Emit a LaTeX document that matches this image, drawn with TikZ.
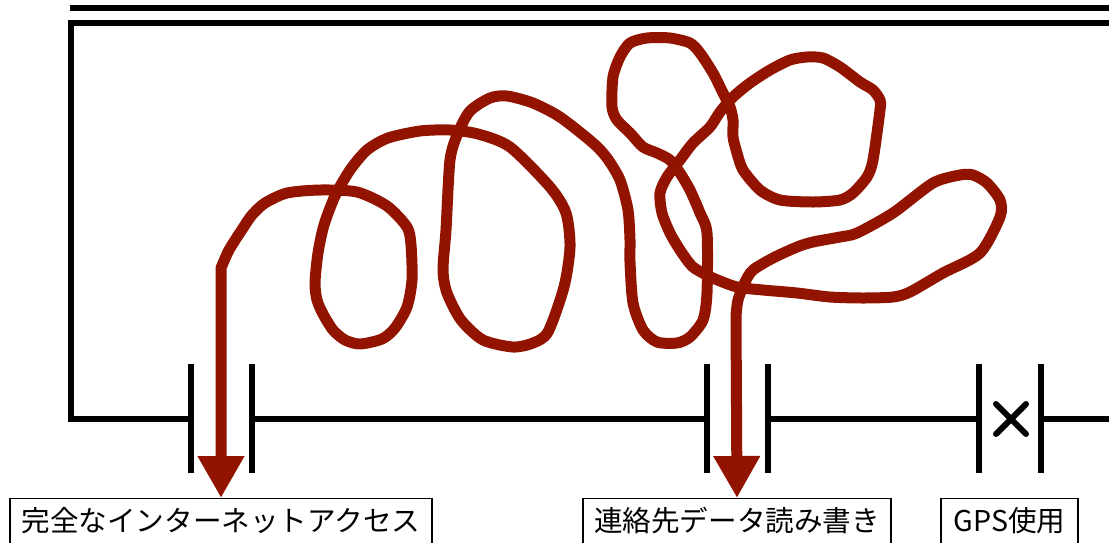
\documentclass[tikz,border=0pt]{standalone}
\usepackage{fontspec}
\newfontfamily\jpfont{Noto Sans CJK JP}
\usetikzlibrary{arrows.meta}
\definecolor{wirered}{RGB}{146,20,0}
\begin{document}
\begin{tikzpicture}[x=1pt,y=-1pt,
  blk/.style={line width=6pt, black, line cap=butt, line join=miter},
  crossline/.style={line width=6pt, black, line cap=round},
  lbl/.style={draw, line width=1.2pt, anchor=north, font=\jpfont\fontsize{28.6}{30}\selectfont,
    inner xsep=0pt, inner ysep=9pt, text height=24pt, text depth=4pt, align=center},
  flow/.style={wirered, line width=11pt, line join=round, line cap=butt,
    >={Triangle[length=42pt,width=44pt]}}
]
\useasboundingbox (0,0) rectangle (1109,542);
% top rail
\draw[blk] (70,7.5) -- (1109,7.5);
% frame
\draw[blk] (1109,23) -- (71,23) -- (71,418.5) -- (191,418.5);
\draw[blk] (252,418.5) -- (707,418.5);
\draw[blk] (768,418.5) -- (979,418.5);
\draw[blk] (1041,418.5) -- (1109,418.5);
% contact bars
\foreach \bx in {191,252,707,768,979,1041}
  \draw[blk] (\bx,364) -- (\bx,473);
% cross
\draw[crossline] (996,404) -- (1026,434);
\draw[crossline] (996,434) -- (1026,404);
% labels
\node[lbl, minimum width=422pt] (l1) at (221,498) {完全なインターネットアクセス};
\node[lbl, minimum width=308pt] (l2) at (737,498) {連絡先データ読み書き};
\node[lbl, minimum width=137pt] (l3) at (1009.5,498) {GPS使用};
% tangled wire
\draw[flow, <->] (l1.north) -- plot[smooth, tension=0.45] coordinates {
 (221,268) (229,250) (243,228) (252,215) (265,203) (287,193) (320,190) (357,192)
 (387,206) (407,227) (411,245) (412,280) (407,307) (395,328) (382,339) (360,344)
 (345,340) (333,330) (323,314) (317,300) (315,283) (318,253) (324,225) (335,196)
 (350,170) (367,150) (388,138) (420,131) (450,130) (478,134) (510,147) (550,187)
 (566,213) (570,247) (564,287) (548,332) (533,343) (513,347) (483,340) (461,320)
 (447,293) (443,270) (446,230) (450,160) (458,133) (470,111) (490,98) (507,96)
 (533,103) (560,117) (593,143) (607,158) (620,180) (628,210) (630,240) (630,262)
 (633,303) (643,330) (657,342) (677,343) (690,337) (703,320) (707,293) (707,233)
 (700,213) (690,190) (680,173) (670,160) (657,153) (643,147) (630,133) (617,120)
 (612,107) (613,77) (620,57) (630,43) (647,38) (670,38) (690,43) (700,53)
 (713,73) (723,93) (730,107) (733,120) (733,137) (737,153) (743,170) (760,190)
 (780,200) (813,202) (840,200) (853,193) (867,177) (873,160) (880,110) (880,100)
 (873,90) (860,82) (840,67) (823,58) (807,57) (790,60) (770,70) (750,83)
 (733,97) (720,112) (710,127) (693,143) (680,160) (667,177) (660,193) (662,213)
 (670,233) (680,250) (693,267) (713,278) (737,287) (763,290) (797,293) (830,297)
 (863,298) (893,297) (910,292) (943,273) (980,253) (1000,217) (1000,200) (987,183)
 (973,175) (960,175) (933,183) (893,213) (857,233) (840,237) (813,242) (797,247)
 (773,258) (753,270) (745,282) (738,300) (736,316)
} -- (l2.north);
\end{tikzpicture}
\end{document}
